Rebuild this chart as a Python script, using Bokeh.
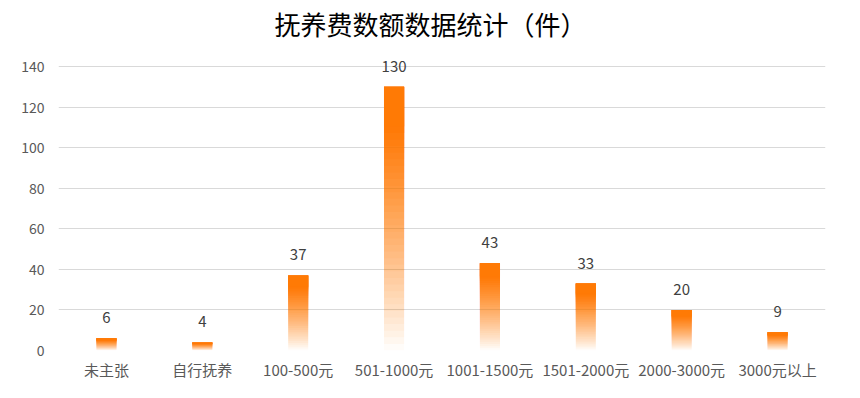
from bokeh.plotting import figure
from bokeh.models import ColumnDataSource, Range1d, FactorRange
from bokeh.embed import file_html
from bokeh.resources import INLINE
from bokeh.core.properties import value

title_text = "抚养费数额数据统计（件）"
categories = ["未主张", "自行抚养", "100-500元", "501-1000元", "1001-1500元",
              "1501-2000元", "2000-3000元", "3000元以上"]
counts = [6, 4, 37, 130, 43, 33, 20, 9]
y_ticks = [0, 20, 40, 60, 80, 100, 120, 140]

FONT = "Noto Sans CJK SC"
BAR_COLOR = "#FF7A05"

p = figure(x_range=FactorRange(*categories, range_padding=0),
           y_range=Range1d(0, 151.8),
           width=852, height=390, output_backend="svg", toolbar_location=None,
           min_border_left=58, min_border_right=27, min_border_top=42,
           min_border_bottom=40)

# gradient bars: stacked overlapping layers so cumulative opacity follows a ramp
n = 40
def ramp(t):
    return min(1.0, t / 0.85) ** 0.9

xs, bottoms, tops, alphas = [], [], [], []
for cat, c in zip(categories, counts):
    prev = 0.0
    for i in range(n):
        t = (i + 0.5) / n
        A = min(ramp(t), 0.999)
        a = 1 - (1 - A) / (1 - prev)
        prev = A
        xs.append(cat)
        bottoms.append(c * i / n)
        tops.append(c)
        alphas.append(max(a, 0.0))
src = ColumnDataSource(dict(x=xs, bottom=bottoms, top=tops, alpha=alphas))
p.vbar(x="x", bottom="bottom", top="top", width=0.21, source=src,
       fill_color=BAR_COLOR, fill_alpha="alpha", line_color=None)

p.text(x=categories, y=counts, text=[str(c) for c in counts],
       text_align="center", text_baseline="bottom", y_offset=-15,
       text_font=value(FONT), text_font_size="15px", text_color="#404040")

p.title.text = title_text
p.title.align = "left"
p.title.offset = 216
p.title.standoff = 2
p.title.text_font = FONT
p.title.text_font_size = "26px"
p.title.text_font_style = "normal"
p.title.text_color = "#000000"

p.yaxis.ticker = y_ticks
for ax in (p.xaxis, p.yaxis):
    ax.axis_line_color = None
    ax.major_tick_line_color = None
    ax.minor_tick_line_color = None
    ax.major_tick_out = 0
    ax.major_tick_in = 0
    ax.minor_tick_out = 0
    ax.major_label_text_font = FONT
    ax.major_label_text_color = "#595959"
p.yaxis.major_label_text_font_size = "14px"
p.xaxis.major_label_text_font_size = "15px"
p.yaxis.major_label_standoff = 14
p.xaxis.major_label_standoff = 8

p.xgrid.grid_line_color = None
p.ygrid.grid_line_color = "#d9d9d9"
p.ygrid.ticker = y_ticks
p.outline_line_color = None

open("out.html", "w").write(file_html(p, INLINE))
